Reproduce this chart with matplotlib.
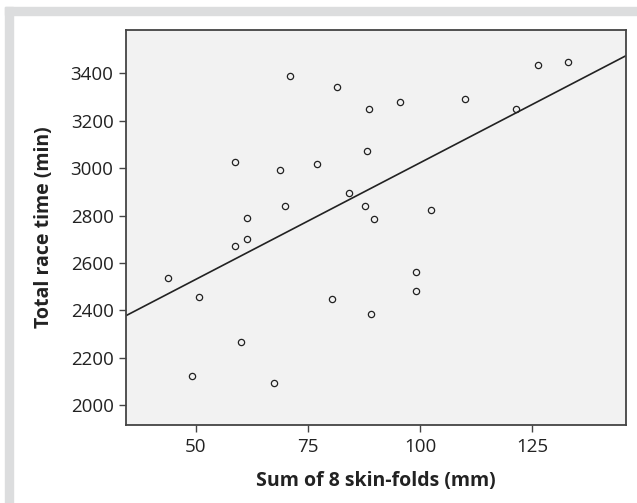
import matplotlib
matplotlib.use('Agg')
import matplotlib.pyplot as plt
import numpy as np
from matplotlib.patches import Rectangle

plt.rcParams['font.family'] = ['Open Sans', 'DejaVu Sans']

# data
skinfolds = [43.7, 49.1, 50.7, 58.7, 58.7, 60.1, 61.3, 61.3, 67.3, 68.8,
             69.8, 71.0, 76.9, 80.4, 81.4, 84.2, 87.7, 88.1, 88.5, 89.1,
             89.6, 95.5, 99.1, 99.1, 102.5, 110.1, 121.4, 126.3, 132.9]
race_time = [2537, 2122, 2456, 2670, 3024, 2267, 2702, 2791, 2094, 2993,
             2840, 3390, 3017, 2447, 3341, 2893, 2840, 3072, 3248, 2383,
             2784, 3279, 2563, 2481, 2824, 3291, 3248, 3435, 3450]
x_ticks = [50, 75, 100, 125]
y_ticks = [2000, 2200, 2400, 2600, 2800, 3000, 3200, 3400]

W, H = 637, 503
fig = plt.figure(figsize=(W / 100, H / 100), dpi=100)

# light grey frame on top and left
frame_col = '#dcddde'
fig.patches.append(Rectangle((5 / W, 1 - 15 / H), 1 - 5 / W, 8 / H,
                             transform=fig.transFigure, color=frame_col, zorder=0))
fig.patches.append(Rectangle((5 / W, 0), 8 / W, 1 - 7 / H,
                             transform=fig.transFigure, color=frame_col, zorder=0))

ax = fig.add_axes([126 / W, 1 - 425 / H, 500 / W, 395 / H])
ax.set_facecolor('#f2f2f2')

ax.plot(skinfolds, race_time, 'o', ms=4.5, mfc='none', mec='#222222', mew=0.9, zorder=3)

# least-squares fit line across the whole x range
xlim = (34.4, 145.9)
slope, intercept = np.polyfit(skinfolds, race_time, 1)
xs = np.array(xlim)
ax.plot(xs, intercept + slope * xs, color='#222222', lw=1.2, zorder=2)

ax.set_xlim(*xlim)
ax.set_ylim(1916, 3583)
ax.set_xticks(x_ticks)
ax.set_yticks(y_ticks)

for s in ax.spines.values():
    s.set_color('#444444')
    s.set_linewidth(1.3)
ax.tick_params(direction='out', length=5, width=1, color='#444444',
               labelsize=13.5, labelcolor='#222222', pad=4)

ax.set_xlabel('Sum of 8 skin-folds (mm)', fontsize=14, fontweight='bold',
              color='#222222', labelpad=11)
ax.set_ylabel('Total race time (min)', fontsize=14, fontweight='bold',
              color='#222222', labelpad=12)

fig.savefig('out.png', dpi=100, facecolor='white')
